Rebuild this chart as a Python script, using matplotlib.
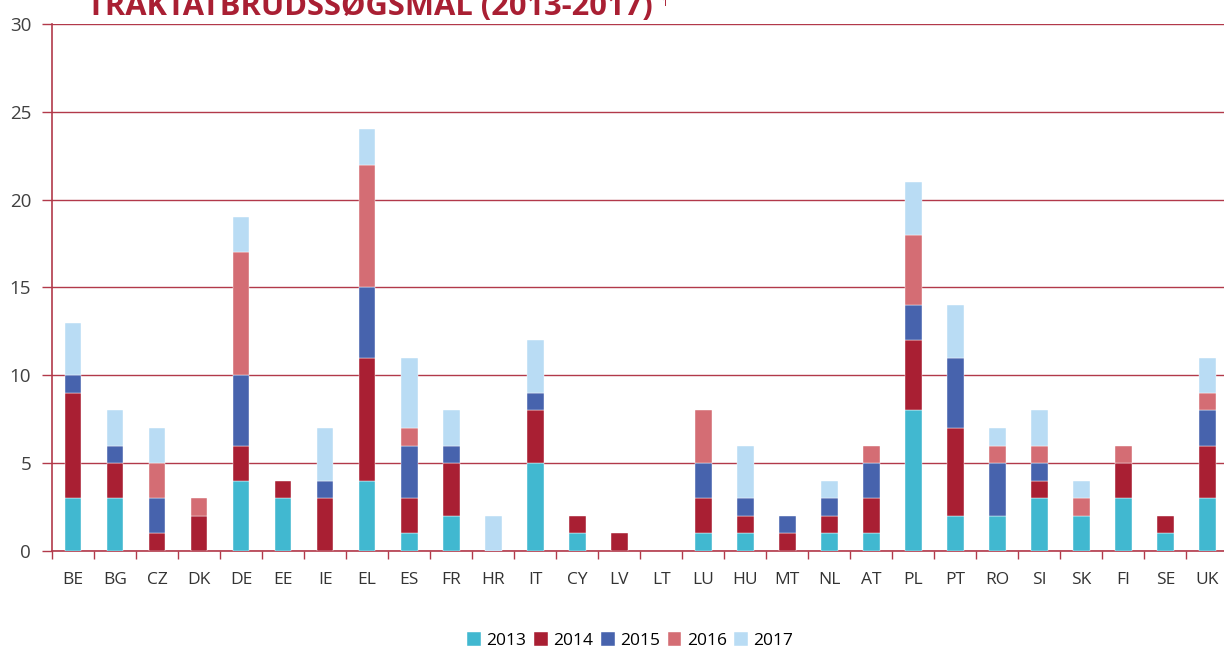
import matplotlib.pyplot as plt
import numpy as np

plt.rcParams['font.family'] = ['Open Sans', 'DejaVu Sans']

countries = ['BE', 'BG', 'CZ', 'DK', 'DE', 'EE', 'IE', 'EL', 'ES', 'FR', 'HR', 'IT', 'CY', 'LV',
             'LT', 'LU', 'HU', 'MT', 'NL', 'AT', 'PL', 'PT', 'RO', 'SI', 'SK', 'FI', 'SE', 'UK']
years = ['2013', '2014', '2015', '2016', '2017']

v2013 = [3, 3, 0, 0, 4, 3, 0, 4, 1, 2, 0, 5, 1, 0, 0, 1, 1, 0, 1, 1, 8, 2, 2, 3, 2, 3, 1, 3]
v2014 = [6, 2, 1, 2, 2, 1, 3, 7, 2, 3, 0, 3, 1, 1, 0, 2, 1, 1, 1, 2, 4, 5, 0, 1, 0, 2, 1, 3]
v2015 = [1, 1, 2, 0, 4, 0, 1, 4, 3, 1, 0, 1, 0, 0, 0, 2, 1, 1, 1, 2, 2, 4, 3, 1, 0, 0, 0, 2]
v2016 = [0, 0, 2, 1, 7, 0, 0, 7, 1, 0, 0, 0, 0, 0, 0, 3, 0, 0, 0, 1, 4, 0, 1, 1, 1, 1, 0, 1]
v2017 = [3, 2, 2, 0, 2, 0, 3, 2, 4, 2, 2, 3, 0, 0, 0, 0, 3, 0, 1, 0, 3, 3, 1, 2, 1, 0, 0, 2]

series = [v2013, v2014, v2015, v2016, v2017]
colors = ['#41b8d0', '#a91f33', '#4763ad', '#d46d74', '#b9dcf4']
red = '#b2394a'

fig = plt.figure(figsize=(12.24, 6.48), dpi=100)
ax = fig.add_axes([0.0425, 0.1497, 0.961, 0.8133])

x = np.arange(len(countries))
bottom = np.zeros(len(countries))
for vals, c, yr in zip(series, colors, years):
    vals = np.array(vals)
    nz = vals > 0
    ax.bar(x[nz], vals[nz], 0.4, bottom=bottom[nz], color=c, label=yr,
           edgecolor='white', linewidth=0.3, zorder=3)
    bottom += vals

ax.set_xlim(-0.5, len(countries) - 0.5)
ax.set_ylim(0, 30)
ax.set_yticks(range(0, 31, 5))
ax.yaxis.grid(True, color=red, linewidth=1, zorder=1)
ax.set_axisbelow(True)

ax.set_xticks(x)
ax.set_xticklabels(countries)
ax.set_xticks(np.arange(-0.5, len(countries)), minor=True)
ax.tick_params(axis='x', which='major', length=0, pad=15, labelsize=12.5, labelcolor='#333333')
ax.tick_params(axis='x', which='minor', length=6, color=red, width=1)
ax.tick_params(axis='y', length=7, color=red, width=1, labelsize=13.5, labelcolor='#404040', pad=8)

for s in ['top', 'right']:
    ax.spines[s].set_visible(False)
ax.spines['left'].set_color(red)
ax.spines['bottom'].set_color(red)
ax.spines['left'].set_linewidth(1.2)
ax.spines['bottom'].set_linewidth(1.2)

fig.text(0.071, 0.977, 'TRAKTATBRUDSSØGSMÅL (2013-2017)', color='#a91f33',
         fontsize=22.2, fontweight='bold', va='baseline', ha='left')
fig.text(0.540, 0.991, '1', color='#a91f33', fontsize=8, va='baseline', ha='left')

ax.legend(loc='center', bbox_to_anchor=(0.4915, -0.17), ncol=5, frameon=False,
          fontsize=12.5, handlelength=0.8, handleheight=0.8, handletextpad=0.3,
          columnspacing=0.45)

fig.savefig('out.png', dpi=100)
